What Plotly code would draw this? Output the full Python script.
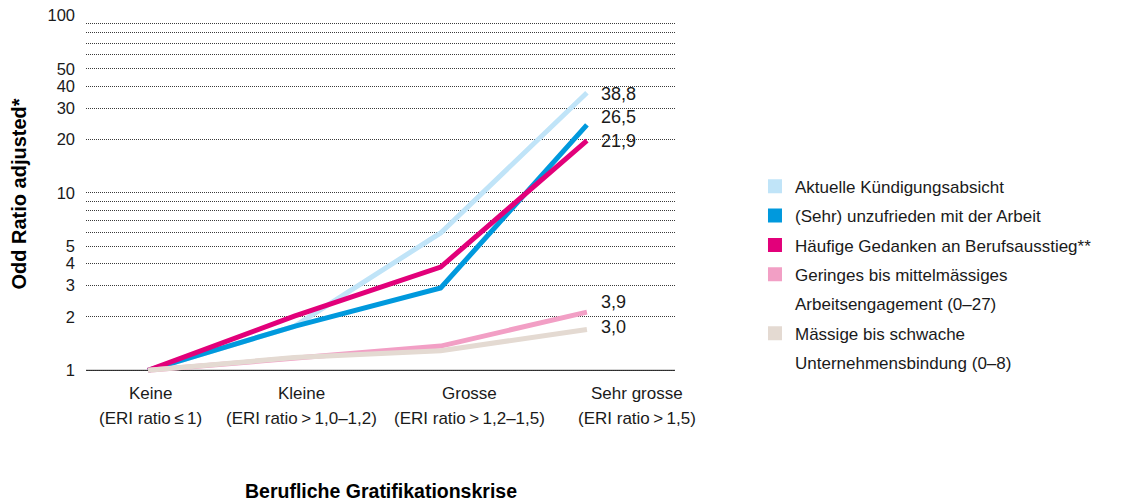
import math
import plotly.graph_objects as go

# categories (x) and odds ratios per outcome
categories = ["Keine", "Kleine", "Grosse", "Sehr grosse"]
category_sub = ["(ERI ratio\u2009\u2264\u20091)", "(ERI ratio\u2009>\u20091,0\u20131,2)",
                "(ERI ratio\u2009>\u20091,2\u20131,5)", "(ERI ratio\u2009>\u20091,5)"]
x_index = [0, 1, 2, 3]

kuendigung = [1.0, 1.77, 5.95, 36.7]
unzufrieden = [1.0, 1.77, 2.91, 24.2]
ausstieg = [1.0, 2.02, 3.82, 19.7]
engagement = [1.0, 1.18, 1.37, 2.13]
bindung = [1.0, 1.18, 1.29, 1.70]

end_labels = ["38,8", "26,5", "21,9", "3,9", "3,0"]
end_label_y = [36.3, 26.9, 19.7, 2.42, 1.75]

legend_names = ["Aktuelle Kündigungsabsicht", "(Sehr) unzufrieden mit der Arbeit",
                "Häufige Gedanken an Berufsausstieg**", "Geringes bis mittelmässiges",
                "Arbeitsengagement (0\u201327)", "Mässige bis schwache",
                "Unternehmensbindung (0\u20138)"]

colors = {
    "kuendigung": "#c0e4f8",
    "unzufrieden": "#0099dd",
    "ausstieg": "#e2007a",
    "engagement": "#f29fc5",
    "bindung": "#e4dad2",
}
legend_colors = [colors["kuendigung"], colors["unzufrieden"], colors["ausstieg"],
                 colors["engagement"], None, colors["bindung"], None]

FONT = "Liberation Sans, Arial, sans-serif"
TXT = "#1a1a1a"
GRID = "#3a3a3a"

fig = go.Figure()

series = [
    (kuendigung, colors["kuendigung"]),
    (unzufrieden, colors["unzufrieden"]),
    (ausstieg, colors["ausstieg"]),
    (engagement, colors["engagement"]),
    (bindung, colors["bindung"]),
]
for vals, col in series:
    fig.add_trace(go.Scatter(x=x_index, y=vals, mode="lines",
                             line=dict(color=col, width=5),
                             showlegend=False, hoverinfo="skip"))

# legend entries (squares), continuation lines get an invisible symbol
for i, (name, col) in enumerate(zip(legend_names, legend_colors)):
    fig.add_trace(go.Scatter(
        x=[None], y=[None], mode="markers", name=name,
        legendgroup=f"g{i}",
        marker=dict(symbol="square", size=14,
                    color=col if col else "rgba(0,0,0,0)"),
    ))

ytick_vals = [1, 2, 3, 4, 5, 10, 20, 30, 40, 50, 100]
yminor_vals = [6, 7, 8, 9, 60, 70, 80, 90]

# page body has an 8px margin, so the figure is 8px smaller than the window
fig.update_layout(
    width=1134, height=495,
    margin=dict(l=78, r=467, t=7, b=130),
    plot_bgcolor="white", paper_bgcolor="white",
    font=dict(family=FONT, size=17, color=TXT),
    xaxis=dict(range=[-0.424, 3.602], showgrid=False, zeroline=False,
               showticklabels=False, ticks="", automargin=False),
    yaxis=dict(type="log", range=[-0.015, 2.003], automargin=False,
               tickvals=ytick_vals, ticktext=[str(v) for v in ytick_vals],
               showgrid=True, gridcolor=GRID, griddash="1px,1px", gridwidth=1,
               minor=dict(tickvals=yminor_vals, showgrid=True, gridcolor=GRID,
                          griddash="1px,1px", gridwidth=1, ticks=""),
               ticks="", ticklabelstandoff=10, ticklabeloverflow="allow",
               zeroline=False, tickfont=dict(size=16.5),
               title=dict(text="<b>Odd Ratio adjusted*</b>", standoff=15,
                          font=dict(size=20, color="#000000"))),
    legend=dict(x=1.1358, xanchor="left", y=0.571, yanchor="top",
                tracegroupgap=4.3, itemsizing="trace",
                font=dict(size=17, color=TXT), bgcolor="rgba(0,0,0,0)",
                itemclick=False),
)

# solid lines at 1 and 10 (log axis shapes use log10 values)
fig.add_shape(type="line", xref="paper", x0=0, x1=1, yref="y", y0=0, y1=0,
              line=dict(color="#666666", width=2), layer="between")
fig.add_shape(type="line", xref="paper", x0=0, x1=1, yref="y", y0=1, y1=1,
              line=dict(color="#000000", width=1), layer="between")

# value labels at the line ends (annotation y on a log axis is log10)
for txt, ly in zip(end_labels, end_label_y):
    fig.add_annotation(x=3, xref="x", y=math.log10(ly), yref="y", xshift=12,
                       xanchor="left", text=txt, showarrow=False, yanchor="middle",
                       font=dict(size=18, color=TXT))

# category labels below the plot
label_x = [0.014, 1.05, 2.2, 3.34]
for lx, top, sub in zip(label_x, categories, category_sub):
    fig.add_annotation(x=lx, xref="x", y=0, yref="paper", yshift=-20,
                       text=top, showarrow=False, yanchor="middle",
                       font=dict(size=17, color=TXT))
    fig.add_annotation(x=lx, xref="x", y=0, yref="paper", yshift=-45,
                       text=sub, showarrow=False, yanchor="middle",
                       font=dict(size=17, color=TXT))

fig.add_annotation(x=0.5, xref="paper", y=0, yref="paper", yshift=-118,
                   text="<b>Berufliche Gratifikationskrise</b>", showarrow=False,
                   yanchor="middle", font=dict(size=19.5, color="#000000"))

fig.write_html("out.html")
